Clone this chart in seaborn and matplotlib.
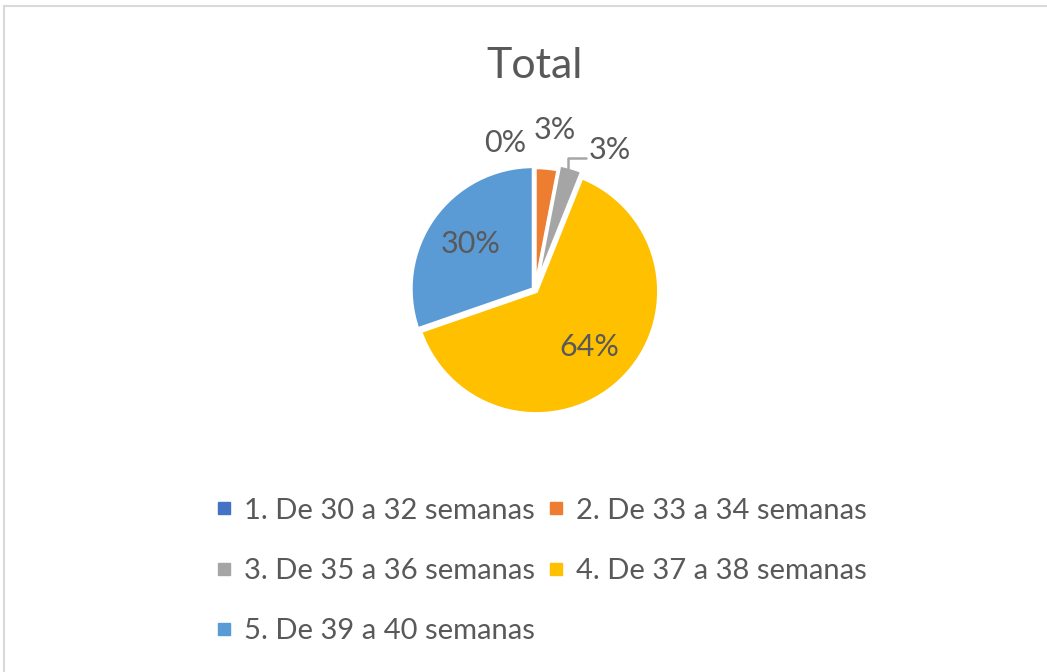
import numpy as np
import matplotlib
matplotlib.use('Agg')
import matplotlib.pyplot as plt
from matplotlib.lines import Line2D
import matplotlib.patches as mpatches
import seaborn as sns

categorias = ["1. De 30 a 32 semanas", "2. De 33 a 34 semanas",
              "3. De 35 a 36 semanas", "4. De 37 a 38 semanas",
              "5. De 39 a 40 semanas"]
valores = [0, 1, 1, 21, 10]
colores = ["#4472C4", "#ED7D31", "#A5A5A5", "#FFC000", "#5B9BD5"]
titulo = "Total"

sns.set_theme(style="white")
plt.rcParams['font.family'] = ['Lato', 'DejaVu Sans']
TXT = "#595959"

fig = plt.figure(figsize=(10.47, 6.72), dpi=100)
fig.patches.append(mpatches.Rectangle((4 / 1047, -0.01), 1.1, (672 - 6) / 672 + 0.01,
                                      transform=fig.transFigure, fill=False,
                                      edgecolor="#D9D9D9", linewidth=1.5))

ax = fig.add_axes([(535 - 125) / 1047, (672 - 415) / 672, 250 / 1047, 250 / 672])
total = sum(valores)
wedges, _ = ax.pie(valores, colors=colores, startangle=90, counterclock=False,
                   radius=0.98, explode=[0, 0, 0.04, 0.015, 0.015],
                   wedgeprops=dict(edgecolor="white", linewidth=2.5))
ax.set_aspect("equal")
ax.set_xlim(-1.0, 1.0)
ax.set_ylim(-1.0, 1.0)
ax.axis("off")

# etiquetas de porcentaje
for i, w in enumerate(wedges):
    pct = 100 * valores[i] / total
    ang = np.deg2rad((w.theta1 + w.theta2) / 2)
    if pct >= 10:
        r = 0.63
        ax.text(r * np.cos(ang), r * np.sin(ang), f"{pct:.0f}%", ha="center",
                va="center", fontsize=22, color=TXT, clip_on=False)
for i, (dx, dy) in zip([0, 1], [(-0.24, 1.18), (0.16, 1.28)]):
    ax.text(dx, dy, f"{100 * valores[i] / total:.0f}%", ha="center", va="center",
            fontsize=22, color=TXT, clip_on=False)
# tercera etiqueta con linea guia
ax.plot([0.264, 0.264, 0.41], [0.975, 1.055, 1.055], color="#A6A6A6",
        linewidth=1.8, clip_on=False)
ax.text(0.6, 1.12, f"{100 * valores[2] / total:.0f}%", ha="center", va="center",
        fontsize=22, color=TXT, clip_on=False)

fig.text(535 / 1047, 1 - 66 / 672, titulo, ha="center", va="center",
         fontsize=31, color=TXT)

orden = [0, 2, 4, 1, 3]
handles = [Line2D([], [], marker="s", linestyle="none", markersize=8,
                  markerfacecolor=colores[k], markeredgecolor=colores[k]) for k in orden]
fig.legend(handles, [categorias[k] for k in orden], ncol=2,
           loc="upper left", bbox_to_anchor=(202 / 1047, 1 - 483 / 672),
           frameon=False, fontsize=21, labelcolor=TXT, labelspacing=1.18,
           handlelength=0.5, handletextpad=0.45, columnspacing=0.45, borderpad=0)

fig.savefig("out.png", dpi=100)
